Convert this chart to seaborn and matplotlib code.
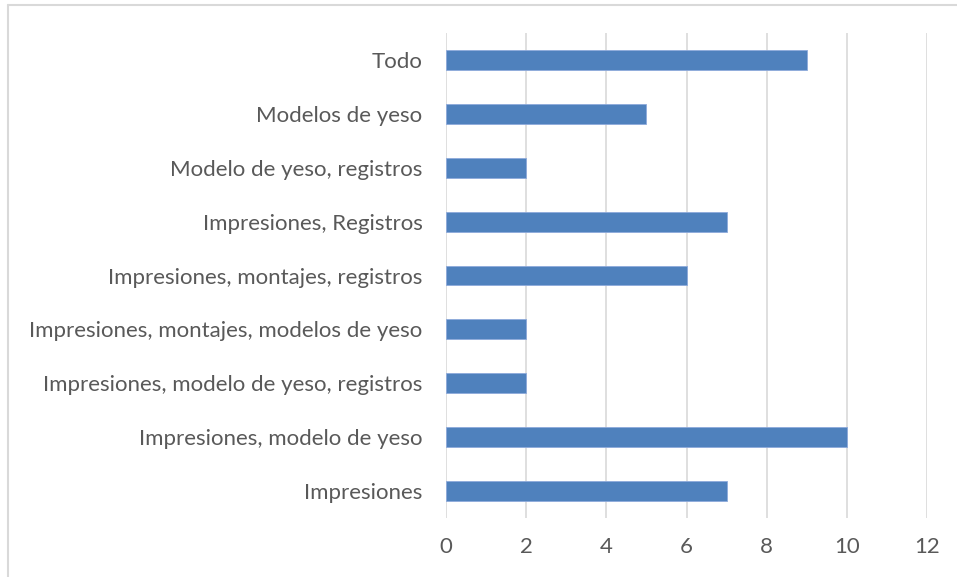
import matplotlib
matplotlib.use("Agg")
import matplotlib.pyplot as plt
import seaborn as sns
import pandas as pd
from matplotlib.lines import Line2D

# categories listed top to bottom as in the chart
categorias = [
    "Todo",
    "Modelos de yeso",
    "Modelo de yeso, registros",
    "Impresiones, Registros",
    "Impresiones, montajes, registros",
    "Impresiones, montajes, modelos de yeso",
    "Impresiones, modelo de yeso, registros",
    "Impresiones, modelo de yeso",
    "Impresiones",
]
valores = [9, 5, 2, 7, 6, 2, 2, 10, 7]
x_ticks = [0, 2, 4, 6, 8, 10, 12]

df = pd.DataFrame({"categoria": categorias, "valor": valores})

sns.set_style("white")
plt.rcParams["font.family"] = ["Lato", "DejaVu Sans"]

fig = plt.figure(figsize=(9.57, 5.77), dpi=100)
ax = fig.add_axes([446 / 957, 1 - 518 / 577, (927 - 446) / 957, (518 - 33) / 577])

sns.barplot(data=df, x="valor", y="categoria", order=categorias, orient="h",
            color="#4F81BD", saturation=1, width=0.37, ax=ax,
            edgecolor="#8EAADB", linewidth=0.6)

ax.set_xlim(0, 12)
ax.set_xticks(x_ticks)
ax.set_xlabel("")
ax.set_ylabel("")
ax.xaxis.grid(True, color="#D9D9D9", linewidth=1.2)
ax.set_axisbelow(True)
for s in ax.spines.values():
    s.set_visible(False)
ax.tick_params(axis="x", length=0, pad=14, labelsize=16, labelcolor="#595959")
ax.tick_params(axis="y", length=0, pad=17, labelsize=16, labelcolor="#595959")

# chart area border (only top and left visible in the crop)
fig.add_artist(Line2D([8 / 957, 8 / 957], [0, 1 - 5 / 577], color="#D9D9D9", linewidth=1.5,
                      transform=fig.transFigure))
fig.add_artist(Line2D([8 / 957, 1], [1 - 5 / 577, 1 - 5 / 577], color="#D9D9D9", linewidth=1.5,
                      transform=fig.transFigure))

fig.savefig("out.png", dpi=100)
